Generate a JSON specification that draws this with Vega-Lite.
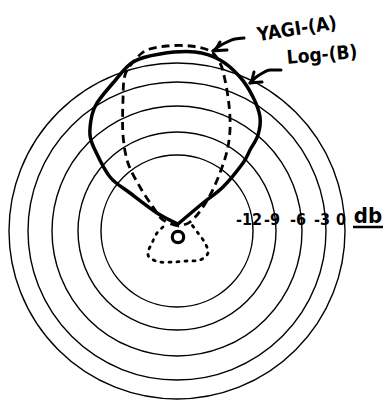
{
  "$schema": "https://vega.github.io/schema/vega-lite/v6.json",
  "width": 387,
  "height": 400,
  "padding": 0,
  "autosize": "none",
  "background": "white",
  "config": {"view": {"stroke": null}},
  "datasets": {
    "rings": [
      {"db": "-12", "r": 76},
      {"db": "-9", "r": 99},
      {"db": "-6", "r": 125},
      {"db": "-3", "r": 149},
      {"db": "0", "r": 168}
    ],
    "curves": [
      {"curve": "Log-(B)", "i": 0, "x": 1, "y": 7},
      {"curve": "Log-(B)", "i": 1, "x": -20, "y": 18},
      {"curve": "Log-(B)", "i": 2, "x": -47, "y": 38},
      {"curve": "Log-(B)", "i": 3, "x": -67, "y": 54},
      {"curve": "Log-(B)", "i": 4, "x": -82, "y": 81},
      {"curve": "Log-(B)", "i": 5, "x": -87, "y": 96},
      {"curve": "Log-(B)", "i": 6, "x": -85, "y": 116},
      {"curve": "Log-(B)", "i": 7, "x": -80, "y": 128},
      {"curve": "Log-(B)", "i": 8, "x": -64, "y": 148},
      {"curve": "Log-(B)", "i": 9, "x": -44, "y": 169},
      {"curve": "Log-(B)", "i": 10, "x": -17, "y": 177},
      {"curve": "Log-(B)", "i": 11, "x": 18, "y": 179},
      {"curve": "Log-(B)", "i": 12, "x": 43, "y": 171},
      {"curve": "Log-(B)", "i": 13, "x": 63, "y": 154},
      {"curve": "Log-(B)", "i": 14, "x": 76, "y": 134},
      {"curve": "Log-(B)", "i": 15, "x": 83, "y": 114},
      {"curve": "Log-(B)", "i": 16, "x": 81, "y": 96},
      {"curve": "Log-(B)", "i": 17, "x": 73, "y": 81},
      {"curve": "Log-(B)", "i": 18, "x": 66, "y": 68},
      {"curve": "Log-(B)", "i": 19, "x": 46, "y": 44},
      {"curve": "Log-(B)", "i": 20, "x": 26, "y": 28},
      {"curve": "Log-(B)", "i": 21, "x": 1, "y": 7},
      {"curve": "Yagi-(A)", "i": 0, "x": 1, "y": 5},
      {"curve": "Yagi-(A)", "i": 1, "x": -14, "y": 11},
      {"curve": "Yagi-(A)", "i": 2, "x": -24, "y": 24},
      {"curve": "Yagi-(A)", "i": 3, "x": -37, "y": 44},
      {"curve": "Yagi-(A)", "i": 4, "x": -49, "y": 68},
      {"curve": "Yagi-(A)", "i": 5, "x": -54, "y": 96},
      {"curve": "Yagi-(A)", "i": 6, "x": -54, "y": 131},
      {"curve": "Yagi-(A)", "i": 7, "x": -52, "y": 156},
      {"curve": "Yagi-(A)", "i": 8, "x": -42, "y": 171},
      {"curve": "Yagi-(A)", "i": 9, "x": -30, "y": 181},
      {"curve": "Yagi-(A)", "i": 10, "x": -10, "y": 185},
      {"curve": "Yagi-(A)", "i": 11, "x": 13, "y": 185},
      {"curve": "Yagi-(A)", "i": 12, "x": 33, "y": 180},
      {"curve": "Yagi-(A)", "i": 13, "x": 43, "y": 168},
      {"curve": "Yagi-(A)", "i": 14, "x": 48, "y": 151},
      {"curve": "Yagi-(A)", "i": 15, "x": 52, "y": 126},
      {"curve": "Yagi-(A)", "i": 16, "x": 53, "y": 101},
      {"curve": "Yagi-(A)", "i": 17, "x": 49, "y": 76},
      {"curve": "Yagi-(A)", "i": 18, "x": 38, "y": 46},
      {"curve": "Yagi-(A)", "i": 19, "x": 26, "y": 24},
      {"curve": "Yagi-(A)", "i": 20, "x": 13, "y": 9},
      {"curve": "Yagi-(A)", "i": 21, "x": 1, "y": 5},
      {"curve": "Yagi back", "i": 0, "x": -14, "y": 4},
      {"curve": "Yagi back", "i": 1, "x": -20, "y": -2},
      {"curve": "Yagi back", "i": 2, "x": -25, "y": -12},
      {"curve": "Yagi back", "i": 3, "x": -29, "y": -21},
      {"curve": "Yagi back", "i": 4, "x": -27, "y": -27},
      {"curve": "Yagi back", "i": 5, "x": -17, "y": -31},
      {"curve": "Yagi back", "i": 6, "x": -4, "y": -31},
      {"curve": "Yagi back", "i": 7, "x": 10, "y": -30},
      {"curve": "Yagi back", "i": 8, "x": 23, "y": -29},
      {"curve": "Yagi back", "i": 9, "x": 31, "y": -22},
      {"curve": "Yagi back", "i": 10, "x": 28, "y": -12},
      {"curve": "Yagi back", "i": 11, "x": 21, "y": -2},
      {"curve": "Yagi back", "i": 12, "x": 15, "y": 6}
    ],
    "arrows": [
      {"arrow": "yagi", "i": 0, "x": 67, "y": 193},
      {"arrow": "yagi", "i": 1, "x": 58, "y": 192},
      {"arrow": "yagi", "i": 2, "x": 48, "y": 188},
      {"arrow": "yagi", "i": 3, "x": 41, "y": 184},
      {"arrow": "yagi", "i": 4, "x": 36, "y": 180},
      {"arrow": "yagi head", "i": 0, "x": 43, "y": 189},
      {"arrow": "yagi head", "i": 1, "x": 36, "y": 180},
      {"arrow": "yagi head", "i": 2, "x": 50, "y": 181},
      {"arrow": "log", "i": 0, "x": 104, "y": 161},
      {"arrow": "log", "i": 1, "x": 93, "y": 161},
      {"arrow": "log", "i": 2, "x": 84, "y": 157},
      {"arrow": "log", "i": 3, "x": 78, "y": 153},
      {"arrow": "log", "i": 4, "x": 73, "y": 148},
      {"arrow": "log head", "i": 0, "x": 77, "y": 159},
      {"arrow": "log head", "i": 1, "x": 73, "y": 148},
      {"arrow": "log head", "i": 2, "x": 85, "y": 149}
    ],
    "notes": [
      {"text": "YAGI-(A)", "x": 120, "y": 202, "tilt": -9},
      {"text": "Log-(B)", "x": 145, "y": 176, "tilt": -5}
    ],
    "origin": [{"x": 1, "y": -6}],
    "unit": [{"text": "db", "x": 191, "y": 15, "x1": 176, "x2": 206, "yu": 4}]
  },
  "layer": [
    {
      "data": {"name": "rings"},
      "mark": {"type": "point", "shape": "circle", "filled": false, "stroke": "black", "strokeWidth": 1.4, "opacity": 1},
      "encoding": {
        "x": {"datum": 0, "type": "quantitative", "scale": {"domain": [-177, 210], "nice": false, "zero": false}, "axis": null},
        "y": {"datum": 0, "type": "quantitative", "scale": {"domain": [-169, 231], "nice": false, "zero": false}, "axis": null},
        "size": {"field": "r", "type": "quantitative", "scale": {"type": "pow", "exponent": 2, "domain": [0, 168], "range": [0, 112896]}, "legend": null}
      }
    },
    {
      "data": {"name": "rings"},
      "mark": {"type": "text", "font": "DejaVu Sans Condensed", "fontWeight": "bold", "fontSize": 16, "dx": -4, "baseline": "middle", "align": "center", "color": "black"},
      "encoding": {
        "x": {"field": "r", "type": "quantitative"},
        "y": {"datum": 11, "type": "quantitative"},
        "text": {"field": "db"}
      }
    },
    {
      "data": {"name": "curves"},
      "transform": [{"filter": "datum.curve === 'Log-(B)'"}],
      "mark": {"type": "line", "interpolate": "cardinal", "stroke": "black", "strokeWidth": 3.5, "strokeCap": "round", "strokeJoin": "round"},
      "encoding": {
        "x": {"field": "x", "type": "quantitative"},
        "y": {"field": "y", "type": "quantitative"},
        "order": {"field": "i", "type": "quantitative"}
      }
    },
    {
      "data": {"name": "curves"},
      "transform": [{"filter": "datum.curve === 'Yagi-(A)'"}],
      "mark": {"type": "line", "interpolate": "cardinal", "stroke": "black", "strokeWidth": 2.8, "strokeDash": [8, 5]},
      "encoding": {
        "x": {"field": "x", "type": "quantitative"},
        "y": {"field": "y", "type": "quantitative"},
        "order": {"field": "i", "type": "quantitative"}
      }
    },
    {
      "data": {"name": "curves"},
      "transform": [{"filter": "datum.curve === 'Yagi back'"}],
      "mark": {"type": "line", "interpolate": "cardinal", "stroke": "black", "strokeWidth": 2.8, "strokeDash": [2, 6], "strokeCap": "round"},
      "encoding": {
        "x": {"field": "x", "type": "quantitative"},
        "y": {"field": "y", "type": "quantitative"},
        "order": {"field": "i", "type": "quantitative"}
      }
    },
    {
      "data": {"name": "origin"},
      "mark": {"type": "point", "shape": "circle", "filled": false, "stroke": "black", "strokeWidth": 3.2, "size": 130, "opacity": 1},
      "encoding": {
        "x": {"field": "x", "type": "quantitative"},
        "y": {"field": "y", "type": "quantitative"}
      }
    },
    {
      "data": {"name": "arrows"},
      "mark": {"type": "line", "interpolate": "monotone", "stroke": "black", "strokeWidth": 3, "strokeCap": "round", "strokeJoin": "round"},
      "encoding": {
        "x": {"field": "x", "type": "quantitative"},
        "y": {"field": "y", "type": "quantitative"},
        "detail": {"field": "arrow"},
        "order": {"field": "i", "type": "quantitative"}
      }
    },
    {
      "data": {"name": "notes"},
      "mark": {"type": "text", "font": "DejaVu Sans Condensed", "fontWeight": "bold", "fontSize": 19, "baseline": "middle", "align": "center", "color": "black"},
      "encoding": {
        "x": {"field": "x", "type": "quantitative"},
        "y": {"field": "y", "type": "quantitative"},
        "text": {"field": "text"},
        "angle": {"field": "tilt", "type": "quantitative", "scale": null}
      }
    },
    {
      "data": {"name": "unit"},
      "mark": {"type": "text", "font": "DejaVu Sans Condensed", "fontWeight": "bold", "fontSize": 22, "baseline": "middle", "align": "center", "color": "black"},
      "encoding": {
        "x": {"field": "x", "type": "quantitative"},
        "y": {"field": "y", "type": "quantitative"},
        "text": {"field": "text"}
      }
    },
    {
      "data": {"name": "unit"},
      "mark": {"type": "rule", "stroke": "black", "strokeWidth": 2.5},
      "encoding": {
        "x": {"field": "x1", "type": "quantitative"},
        "x2": {"field": "x2"},
        "y": {"field": "yu", "type": "quantitative"}
      }
    }
  ]
}
